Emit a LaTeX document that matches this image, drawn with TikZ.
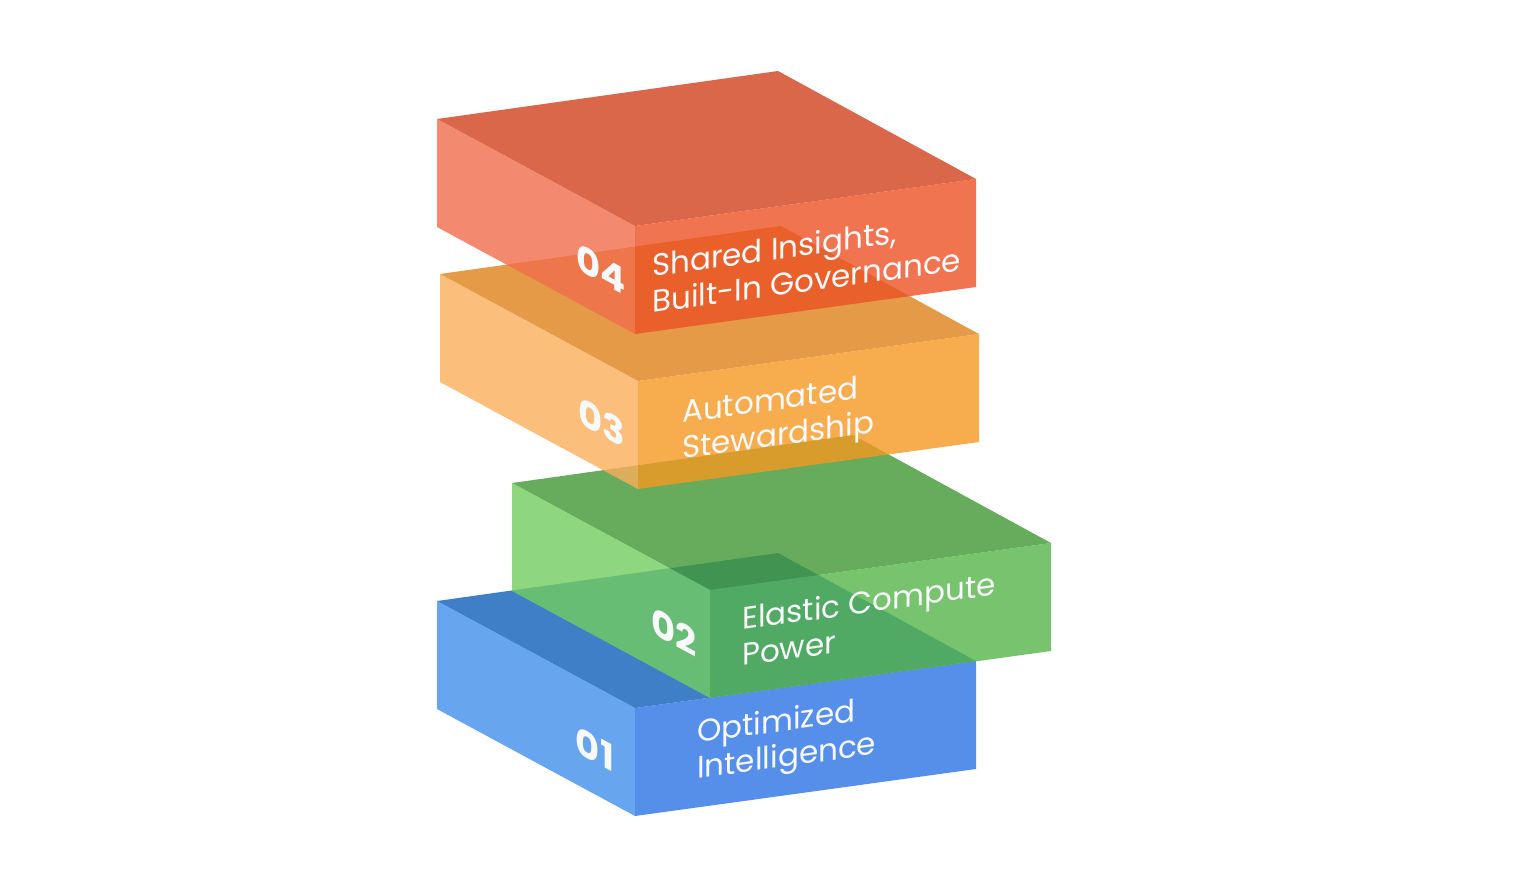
\documentclass[tikz,border=0pt]{standalone}
\usepackage{fontspec}
\setmainfont{Poppins}
\newfontfamily\numfont{Poppins}
\definecolor{rTop}{RGB}{211,66,30}
\definecolor{rLeft}{RGB}{241,109,76}
\definecolor{rRight}{RGB}{235,82,36}
\definecolor{oTop}{RGB}{222,129,26}
\definecolor{oLeft}{RGB}{251,174,91}
\definecolor{oRight}{RGB}{245,152,34}
\definecolor{gTop}{RGB}{65,152,52}
\definecolor{gLeft}{RGB}{114,205,96}
\definecolor{gRight}{RGB}{86,181,74}
\definecolor{bTop}{RGB}{15,95,186}
\definecolor{bLeft}{RGB}{66,144,235}
\definecolor{bRight}{RGB}{43,116,229}
\definecolor{txt}{RGB}{248,249,251}
\tikzset{
  face/.style={fill=#1, fill opacity=0.8, draw=none},
  label/.style={anchor=base west, align=left, text=txt, inner sep=0pt,
    yslant=0.1378, transform shape, font=\fontsize{31}{36}\selectfont},
  num/.style={anchor=center, text=txt, inner sep=0pt,
    yslant=-0.5404, transform shape, font=\numfont\bfseries\fontsize{37}{40}\selectfont}
}
% #1,#2: left corner of top face; #3,#4,#5: colours of top, left and right faces
\newcommand\slab[5]{%
  \fill[face=#3] (#1,#2) -- ++(341,-48) -- ++(198,108) -- ++(-341,47) -- cycle;
  \fill[face=#4] (#1,#2) -- ++(198,107) -- ++(0,108) -- ++(-198,-107) -- cycle;
  \fill[face=#5] (#1,#2) ++(198,107) -- ++(341,-47) -- ++(0,108) -- ++(-341,47) -- cycle;
}
\begin{document}
\begin{tikzpicture}[x=1pt,y=-1pt]
\useasboundingbox[fill=white] (0,0) rectangle (1536,895);
% block 01
\slab{437}{601}{bTop}{bLeft}{bRight}
\node[num] (n1) at (595,749) {01};
\node[label] (t1) at (697,779) {Optimized\\Intelligence};
% block 02
\slab{512}{483}{gTop}{gLeft}{gRight}
\node[num] (n2) at (674,632) {02};
\node[label] (t2) at (742,666) {Elastic Compute\\Power};
% block 03
\slab{440}{274}{oTop}{oLeft}{oRight}
\node[num] (n3) at (602,422) {03};
\node[label] (t3) at (682,459) {Automated\\Stewardship};
% block 04
\slab{437}{119}{rTop}{rLeft}{rRight}
\node[num] (n4) at (601,269) {04};
\node[label] (t4) at (652,313) {Shared Insights,\\Built-In Governance};
\end{tikzpicture}
\end{document}
